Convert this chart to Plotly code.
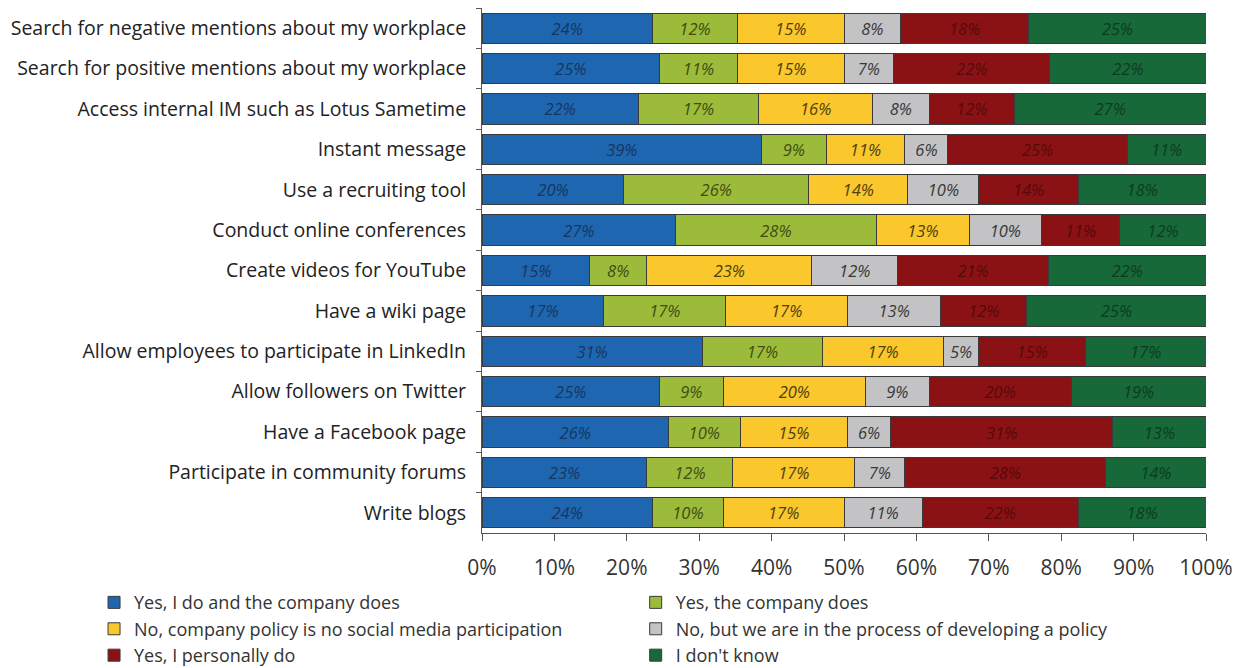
import plotly.graph_objects as go

categories = [
    "Search for negative mentions about my workplace",
    "Search for positive mentions about my workplace",
    "Access internal IM such as Lotus Sametime",
    "Instant message",
    "Use a recruiting tool",
    "Conduct online conferences",
    "Create videos for YouTube",
    "Have a wiki page",
    "Allow employees to participate in LinkedIn",
    "Allow followers on Twitter",
    "Have a Facebook page",
    "Participate in community forums",
    "Write blogs",
]

series_names = [
    "Yes, I do and the company does",
    "Yes, the company does",
    "No, company policy is no social media participation",
    "No, but we are in the process of developing a policy",
    "Yes, I personally do",
    "I don't know",
]

yes_both = [24, 25, 22, 39, 20, 27, 15, 17, 31, 25, 26, 23, 24]
yes_company = [12, 11, 17, 9, 26, 28, 8, 17, 17, 9, 10, 12, 10]
no_policy = [15, 15, 16, 11, 14, 13, 23, 17, 17, 20, 15, 17, 17]
no_developing = [8, 7, 8, 6, 10, 10, 12, 13, 5, 9, 6, 7, 11]
yes_personally = [18, 22, 12, 25, 14, 11, 21, 12, 15, 20, 31, 28, 22]
dont_know = [25, 22, 27, 11, 18, 12, 22, 25, 17, 19, 13, 14, 18]

series_values = [yes_both, yes_company, no_policy, no_developing, yes_personally, dont_know]

colors = ["#1F66B0", "#9CBB3A", "#FAC72C", "#C3C3C5", "#8A1214", "#17693A"]
text_colors = ["#163760", "#3E4E15", "#4F410C", "#383838", "#560A0B", "#0C3C1F"]
legend_ids = ["legend", "legend2", "legend", "legend2", "legend", "legend2"]

x_ticks = [0, 10, 20, 30, 40, 50, 60, 70, 80, 90, 100]

fig = go.Figure()
for name, vals, col, tcol, lg in zip(series_names, series_values, colors, text_colors, legend_ids):
    fig.add_trace(go.Bar(
        name=name,
        y=categories,
        x=vals,
        orientation="h",
        legend=lg,
        marker=dict(color=col, line=dict(color="#3a3a3a", width=1)),
        text=[f"{v}%" for v in vals],
        texttemplate="%{text}",
        textposition="inside",
        insidetextanchor="middle",
        textangle=0,
        textfont=dict(family="Open Sans", size=16.5, color=tcol, style="italic"),
        hoverinfo="skip",
    ))

legend_common = dict(
    orientation="h",
    traceorder="normal",
    xref="container", yref="container",
    xanchor="left", yanchor="top",
    entrywidth=540, entrywidthmode="pixels",
    font=dict(family="Open Sans", size=18, color="#333333"),
    itemclick=False,
    bgcolor="rgba(0,0,0,0)",
)

fig.update_layout(
    barmode="stack",
    barnorm="percent",
    bargap=0.25,
    width=1244,
    height=668,
    margin=dict(l=482, r=38, t=8, b=135),
    paper_bgcolor="white",
    plot_bgcolor="white",
    font=dict(family="Open Sans", color="#333333"),
    uniformtext=dict(minsize=16.5, mode="show"),
    showlegend=True,
    legend=dict(x=0.0756, y=0.1255, **legend_common),
    legend2=dict(x=0.511, y=0.1255, **legend_common),
)

fig.update_xaxes(
    range=[0, 100],
    tickvals=x_ticks,
    ticktext=[f"{t}%" for t in x_ticks],
    showgrid=False,
    zeroline=False,
    showline=True,
    linecolor="#555555",
    linewidth=1,
    ticks="outside",
    ticklen=7,
    tickcolor="#555555",
    ticklabelstandoff=9,
    tickfont=dict(family="Open Sans", size=21, color="#333333"),
    fixedrange=True,
    automargin=False,
)
fig.update_yaxes(
    autorange="reversed",
    showgrid=False,
    showline=True,
    linecolor="#555555",
    linewidth=1,
    ticks="outside",
    tickson="boundaries",
    ticklen=5,
    tickcolor="#555555",
    ticklabelstandoff=11,
    tickfont=dict(family="Open Sans", size=19.5, color="#222222"),
    fixedrange=True,
    automargin=False,
)

fig.write_html("out.html")
